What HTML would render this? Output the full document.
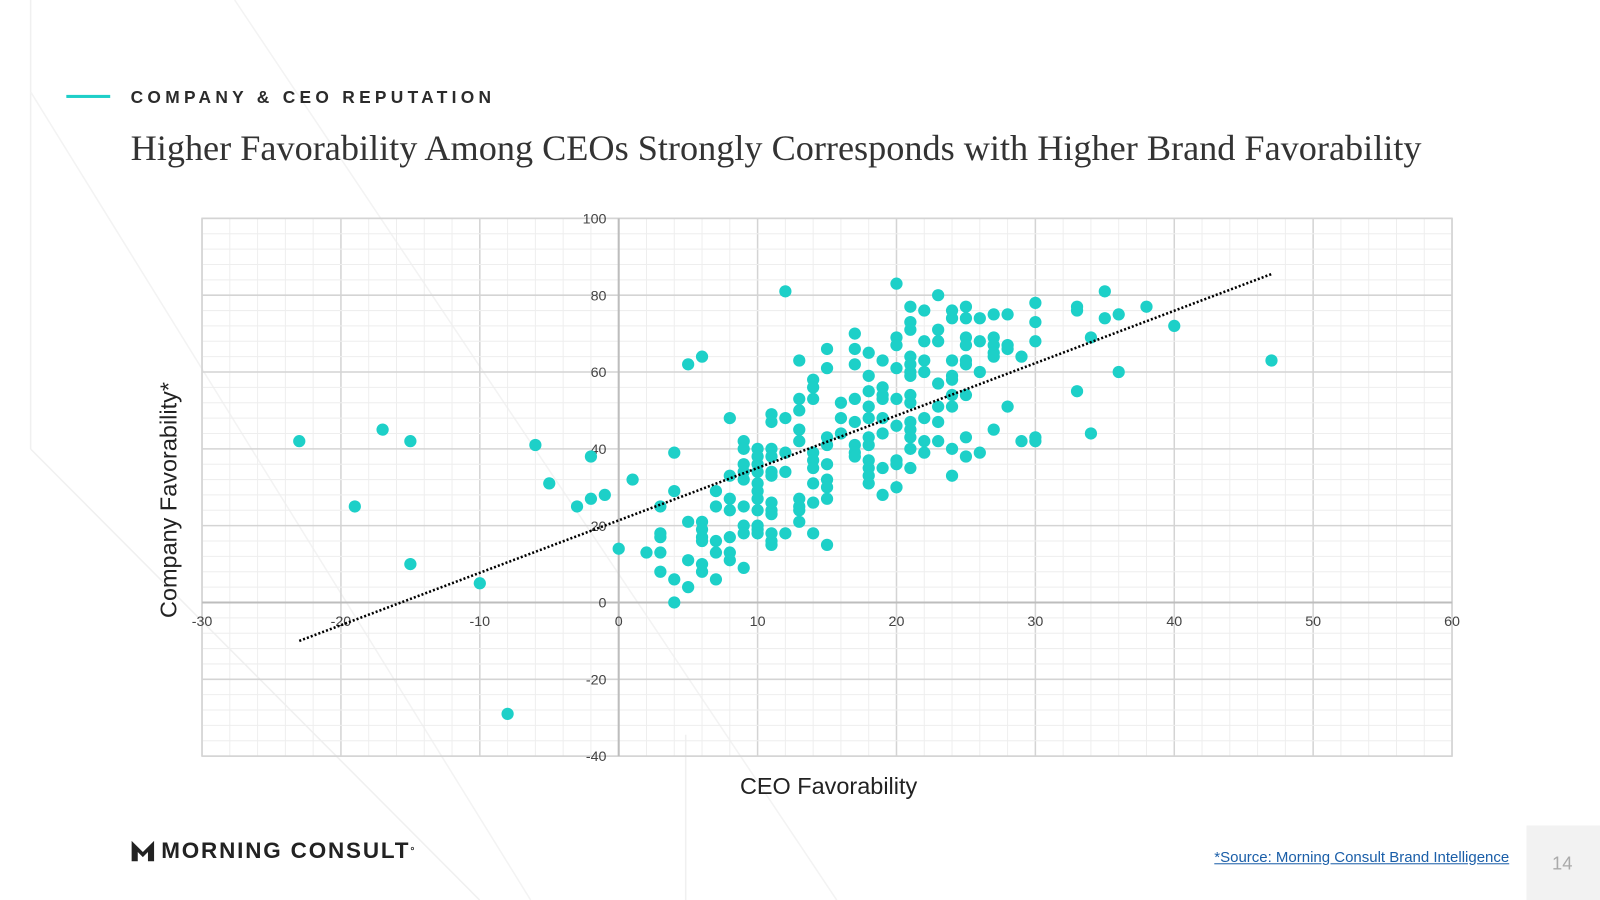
<!DOCTYPE html>
<html><head><meta charset="utf-8">
<style>
html,body{margin:0;padding:0;background:#fff;overflow:hidden}
#wrap{position:absolute;left:0;top:0;width:1568px;height:882px;transform:scale(1.020408);transform-origin:0 0;font-family:"Liberation Sans",sans-serif}
.abs{position:absolute}
</style></head><body>
<div id="wrap">
<svg class="abs" style="left:0;top:0" width="1568" height="882">
  <line x1="30" y1="0" x2="30" y2="440" stroke="#f0f0f0" stroke-width="1.5"/>
  <line x1="230" y1="0" x2="820" y2="882" stroke="#f3f3f3" stroke-width="1.5"/>
  <line x1="30" y1="90" x2="520" y2="882" stroke="#f3f3f3" stroke-width="1.5"/>
  <line x1="30" y1="440" x2="470" y2="882" stroke="#f0f0f0" stroke-width="1.5"/>
  <line x1="672" y1="720" x2="672" y2="882" stroke="#f0f0f0" stroke-width="1.5"/>
  <rect x="1496" y="809" width="72" height="73" fill="#f2f2f2"/>
</svg>
<div class="abs" style="left:65px;top:93px;width:43px;height:3px;background:#1ecfc8"></div>
<div class="abs" style="left:128px;top:86px;font-size:17px;font-weight:bold;letter-spacing:4.2px;color:#2b2b2b;white-space:nowrap">COMPANY &amp; CEO REPUTATION</div>
<div class="abs" style="left:128px;top:124px;font-family:'Liberation Serif',serif;font-size:35.5px;color:#333;white-space:nowrap">Higher Favorability Among CEOs Strongly Corresponds with Higher Brand Favorability</div>
<svg id="chart" class="abs" style="left:0;top:0" width="1568" height="882"></svg>
<div class="abs" style="left:128px;top:821px;font-size:22px;font-weight:bold;letter-spacing:1.8px;color:#222;display:flex;align-items:center;white-space:nowrap">
  <svg width="24" height="24" viewBox="0 0 24 24" style="margin-right:6px"><path d="M1 2 L12 13 L23 2 L23 22 L17 22 L17 13 L12 18 L7 13 L7 22 L1 22 Z" fill="#222"/></svg>MORNING CONSULT<sup style="font-size:10px">°</sup></div>
<a class="abs" style="left:1190px;top:833px;font-size:14.7px;color:#1a5ea8;text-decoration:underline;white-space:nowrap">*Source: Morning Consult Brand Intelligence</a>
<div class="abs" style="left:1521px;top:836px;font-size:18px;color:#aaa">14</div>
</div>
<script>
const xTicks=[-30,-20,-10,0,10,20,30,40,50,60];
const yTicks=[-40,-20,0,20,40,60,80,100];
const ceoFav=[-23,-19,-17,-15,-15,-10,-8,-6,-5,-3,-2,-2,-1,0,1,2,3,3,3,3,3,4,4,4,4,5,6,5,5,5,6,6,6,6,6,6,7,7,7,7,7,8,8,8,8,8,8,8,9,9,9,9,9,9,9,9,9,
10,10,10,10,10,10,10,10,10,10,10,11,11,11,11,11,11,11,11,11,11,11,11,12,12,12,12,12,13,13,13,13,13,13,13,13,13,14,14,14,14,14,14,14,14,14,15,15,15,15,15,15,15,15,15,16,16,16,17,17,17,17,17,17,17,17,
18,18,18,18,18,18,18,18,18,18,18,19,19,19,19,19,19,19,19,20,20,20,20,20,20,20,20,20,21,21,21,21,21,21,21,21,21,21,21,21,21,21,22,22,22,22,22,22,22,23,23,23,23,23,23,23,24,24,24,24,24,24,24,24,24,
25,25,25,25,25,25,25,25,25,26,26,26,26,27,27,27,27,27,27,28,28,28,28,29,29,30,30,30,30,30,33,33,33,34,34,35,35,36,36,38,40,47];
const companyFav=[42,25,45,42,10,5,-29,41,31,25,27,38,28,14,32,13,13,17,18,25,8,39,29,6,0,62,64,21,11,4,21,19,17,16,10,8,29,25,16,13,6,48,33,27,24,17,13,11,42,40,36,34,32,25,20,18,9,
40,38,36,34,31,29,27,24,20,19,18,49,47,40,38,34,33,26,24,23,18,16,15,81,48,39,34,18,63,53,50,45,42,27,25,24,21,58,56,53,39,37,35,31,26,18,66,61,43,41,36,32,30,27,15,52,48,44,70,66,62,53,47,41,39,38,
65,59,55,51,48,43,41,37,35,33,31,63,56,54,53,48,44,35,28,83,69,67,61,53,46,37,36,30,77,73,71,64,62,60,59,54,52,47,45,43,40,35,76,68,63,60,48,42,39,80,71,68,57,51,47,42,76,74,63,59,58,54,51,40,33,
77,74,69,67,63,62,54,43,38,74,68,60,39,75,69,67,65,64,45,75,67,66,51,64,42,78,73,68,43,42,77,76,55,69,44,81,74,75,60,77,72,63];
const trendX=[-23,47];
const trendY=[-10,85.5];
const NS='http://www.w3.org/2000/svg';
const svg=document.getElementById('chart');
const L=198,R=1423,T=214,B=741,xMin=-30,xMax=60,yMin=-40,yMax=100;
const sx=v=>L+(v-xMin)/(xMax-xMin)*(R-L);
const sy=v=>B-(v-yMin)/(yMax-yMin)*(B-T);
function mk(tag,attrs){const e=document.createElementNS(NS,tag);for(const k in attrs)e.setAttribute(k,attrs[k]);svg.appendChild(e);return e;}
let g;
for(let v=xMin;v<=xMax;v+=2){g=mk('line',{x1:sx(v),x2:sx(v),y1:T,y2:B,stroke:v%10===0?'#d4d4d4':'#eeeeee','stroke-width':v%10===0?1.5:1});

}
for(let v=yMin;v<=yMax;v+=4){g=mk('line',{x1:L,x2:R,y1:sy(v),y2:sy(v),stroke:v%20===0?'#d4d4d4':'#eeeeee','stroke-width':v%20===0?1.5:1});

}
g=mk('rect',{x:L,y:T,width:R-L,height:B-T,fill:'none',stroke:'#d4d4d4','stroke-width':1.5});


g=mk('line',{x1:sx(0),x2:sx(0),y1:T,y2:B,stroke:'#bdbdbd','stroke-width':2});


g=mk('line',{x1:L,x2:R,y1:sy(0),y2:sy(0),stroke:'#bdbdbd','stroke-width':2});


xTicks.forEach(v=>{const t=mk('text',{x:sx(v),y:sy(0)+23,'text-anchor':'middle','font-size':14,fill:'#444','font-family':'Liberation Sans, sans-serif'});t.textContent=v;

});
yTicks.forEach(v=>{const t=mk('text',{x:sx(0)-12,y:sy(v)+5,'text-anchor':'end','font-size':14,fill:'#444','font-family':'Liberation Sans, sans-serif'});t.textContent=v;

});
ceoFav.forEach((x,i)=>{const c=mk('circle',{cx:sx(x),cy:sy(companyFav[i]),r:6,fill:'#1dd0c8'});

});
g=mk('line',{x1:sx(trendX[0]),y1:sy(trendY[0]),x2:sx(trendX[1]),y2:sy(trendY[1]),stroke:'#000','stroke-width':2.5,'stroke-dasharray':'2 2'});


g=mk('text',{x:812,y:778,'text-anchor':'middle','font-size':23,fill:'#222','font-family':'Liberation Sans, sans-serif'});g.textContent='CEO Favorability';


g=mk('text',{x:0,y:0,'text-anchor':'middle','font-size':23,fill:'#222','font-family':'Liberation Sans, sans-serif',transform:'translate(173,490) rotate(-90)'});g.textContent='Company Favorability*';


</script>
</body></html>
